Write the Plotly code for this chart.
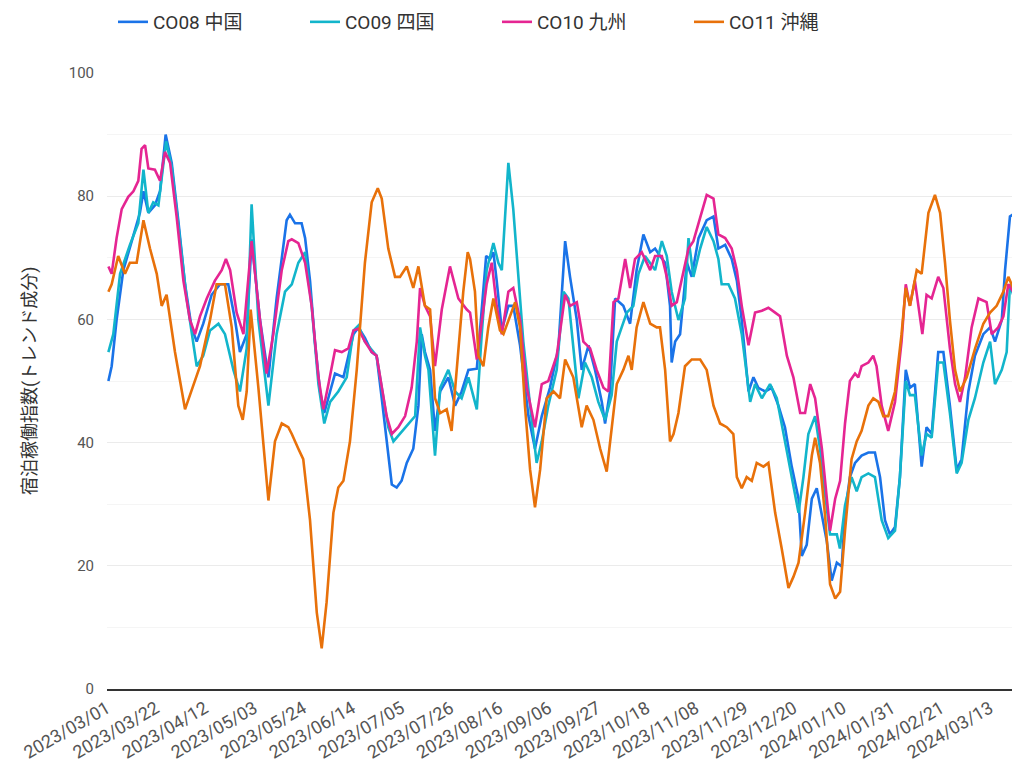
import pandas as pd
import plotly.graph_objects as go

START = "2023-03-01"

# ---- data: (day offset from 2023/03/01, index value) ----
co08_points = [
    (0.6, 50.0), (2.0, 52.4), (4.1, 59.9), (7.0, 68.0), (10.6, 72.7), (14.1, 77.3), (15.6, 80.8), (17.7, 77.3),
    (20.5, 78.5), (22.7, 80.8), (25.1, 90.0), (27.7, 85.4), (30.5, 76.1), (33.4, 65.7), (36.2, 58.7), (38.4, 56.4),
    (41.2, 59.3), (44.8, 64.0), (48.4, 65.7), (51.9, 65.7), (54.8, 59.9), (56.9, 54.7), (59.8, 57.6), (61.9, 73.0),
    (65.5, 59.9), (69.1, 50.6), (72.6, 63.4), (76.9, 76.1), (78.3, 77.0), (80.5, 75.6), (83.3, 75.6), (84.8, 73.2),
    (86.9, 66.3), (89.0, 56.4), (91.2, 48.3), (93.0, 44.8), (95.5, 48.3), (97.6, 51.2), (101.2, 50.6), (103.3, 54.1),
    (105.5, 57.6), (107.6, 58.7), (110.4, 57.0), (113.3, 54.7), (115.4, 54.1), (117.6, 47.2), (119.7, 40.2),
    (121.9, 33.2), (124.0, 32.7), (126.1, 33.8), (128.3, 36.7), (131.1, 39.0), (133.3, 46.0), (134.7, 57.6),
    (136.1, 54.7), (138.3, 51.8), (140.4, 41.9), (142.6, 48.3), (146.1, 50.6), (149.0, 46.0), (151.8, 48.3),
    (154.7, 51.8), (158.3, 52.0), (160.4, 61.6), (162.3, 70.3), (164.0, 69.8), (165.4, 70.9), (166.8, 66.3),
    (169.0, 58.2), (171.8, 62.2), (173.9, 62.2), (176.8, 55.8), (180.4, 44.3), (183.2, 39.0), (186.1, 44.3),
    (189.6, 48.9), (193.2, 55.3), (196.1, 72.7), (198.2, 66.9), (201.1, 59.9), (203.2, 51.8), (206.1, 55.8),
    (208.9, 51.8), (211.8, 46.6), (213.2, 43.1), (215.3, 48.3), (217.5, 63.4), (221.0, 62.2), (223.9, 59.3),
    (226.7, 68.0), (229.6, 73.8), (232.5, 70.9), (234.6, 71.5), (236.7, 70.3), (238.9, 69.2), (241.0, 62.2),
    (241.7, 53.0), (243.2, 56.4), (245.3, 57.6), (248.2, 69.2), (250.3, 66.9), (253.2, 73.2), (256.7, 76.1),
    (259.6, 76.7), (261.7, 71.5), (264.6, 72.1), (267.4, 69.8), (269.6, 66.3), (271.7, 59.9), (274.6, 48.3),
    (276.7, 50.6), (278.8, 48.9), (281.7, 48.3), (284.5, 48.9), (287.4, 46.0), (290.2, 42.5), (293.1, 36.1),
    (296.0, 30.9), (297.4, 21.6), (299.5, 23.4), (301.7, 30.9), (303.8, 32.6), (305.9, 28.6), (308.1, 24.0),
    (310.2, 17.6), (312.4, 20.5), (314.5, 19.9), (315.9, 28.6), (318.0, 34.4), (320.2, 36.7), (323.0, 37.9),
    (325.9, 38.4), (328.7, 38.4), (330.9, 34.4), (333.0, 27.4), (335.1, 25.1), (337.3, 26.3), (339.4, 34.4),
    (341.9, 51.8), (343.7, 48.9), (345.8, 49.5), (348.7, 36.1), (350.8, 42.5), (353.0, 41.4), (355.8, 54.7),
    (358.0, 54.7), (360.8, 46.0), (363.7, 35.6), (365.8, 37.3), (368.7, 48.3), (371.5, 54.1), (375.1, 57.6),
    (378.0, 58.7), (380.1, 56.4), (383.0, 59.9), (384.4, 68.0), (386.5, 76.7), (388.7, 77.3), (390.8, 76.1),
]

co09_points = [
    (0.6, 54.7), (2.7, 57.6), (5.6, 67.4), (9.8, 72.1), (13.4, 75.6), (15.6, 84.3), (17.7, 77.3), (19.8, 79.0),
    (22.0, 78.5), (23.4, 83.1), (25.3, 88.9), (27.7, 84.8), (30.5, 75.0), (34.1, 63.4), (38.4, 52.4), (41.2, 54.1),
    (44.1, 58.2), (47.7, 59.3), (50.5, 57.6), (54.1, 51.8), (56.9, 48.3), (59.8, 55.3), (61.9, 78.7), (64.8, 59.9),
    (69.1, 46.0), (72.6, 57.6), (76.2, 64.5), (79.1, 65.7), (81.9, 69.2), (84.8, 70.9), (87.6, 62.2), (90.5, 49.5),
    (93.0, 43.1), (95.5, 46.6), (99.0, 48.3), (102.6, 50.6), (105.5, 58.2), (107.6, 59.0), (110.4, 56.4),
    (115.4, 54.1), (117.6, 48.9), (120.4, 42.5), (122.6, 40.2), (125.4, 41.4), (129.0, 43.1), (131.9, 44.3),
    (134.0, 58.7), (136.1, 54.1), (137.6, 51.8), (140.4, 37.9), (142.6, 48.9), (146.1, 51.8), (149.0, 48.3),
    (151.8, 47.2), (154.7, 50.6), (158.3, 45.4), (160.4, 57.6), (162.5, 68.0), (165.4, 72.4), (167.5, 69.2),
    (169.0, 68.0), (171.8, 85.4), (173.9, 77.9), (176.1, 66.3), (178.2, 56.4), (181.1, 46.0), (183.9, 36.7),
    (186.1, 40.2), (188.9, 46.0), (192.5, 51.8), (195.4, 64.5), (197.5, 63.4), (199.6, 55.3), (201.8, 47.2),
    (204.6, 53.0), (207.5, 50.6), (210.3, 46.6), (213.2, 43.7), (216.0, 47.7), (218.2, 56.4), (220.3, 58.7),
    (222.5, 61.1), (225.3, 62.2), (227.5, 67.4), (230.3, 70.3), (233.2, 68.6), (234.6, 68.0), (237.5, 72.7),
    (239.6, 70.3), (241.7, 64.5), (244.6, 59.9), (247.4, 63.4), (248.9, 73.2), (251.0, 66.9), (253.9, 71.5),
    (256.7, 75.0), (259.6, 72.7), (261.7, 69.8), (263.1, 65.7), (266.0, 65.7), (268.8, 63.4), (271.7, 57.6),
    (275.3, 46.6), (277.4, 49.5), (280.3, 47.2), (283.8, 49.5), (286.7, 47.2), (290.2, 40.2), (293.1, 34.4),
    (296.0, 28.6), (298.1, 34.4), (300.2, 41.4), (303.1, 44.3), (305.2, 39.0), (307.4, 31.5), (309.5, 25.1),
    (312.4, 25.1), (313.7, 22.8), (315.9, 29.8), (318.7, 34.4), (320.9, 32.1), (323.0, 34.4), (325.9, 35.0),
    (328.7, 34.4), (331.6, 27.4), (334.4, 24.5), (337.3, 25.7), (339.4, 34.4), (341.9, 50.0), (343.7, 47.7),
    (345.8, 47.7), (348.7, 37.9), (350.8, 41.4), (353.0, 40.8), (355.8, 53.0), (358.0, 53.0), (360.8, 44.8),
    (363.7, 35.0), (365.8, 36.7), (368.7, 43.7), (371.5, 47.2), (375.1, 53.0), (378.0, 56.4), (380.1, 49.5),
    (383.0, 51.8), (385.1, 54.7), (386.5, 65.7), (389.4, 62.2), (390.8, 60.5),
]

co10_points = [
    (0.6, 68.6), (2.0, 67.4), (4.1, 73.2), (6.3, 77.9), (9.1, 79.9), (11.3, 80.8), (13.4, 82.5), (14.8, 87.7),
    (16.3, 88.3), (17.7, 84.5), (20.5, 84.3), (22.7, 82.5), (24.8, 87.2), (27.0, 85.4), (29.8, 76.7), (32.7, 66.3),
    (35.5, 59.9), (37.7, 57.6), (39.8, 60.5), (42.7, 63.4), (46.2, 66.3), (49.1, 68.0), (50.9, 69.8), (52.7, 68.0),
    (55.5, 61.1), (58.4, 57.6), (61.9, 72.7), (65.5, 59.9), (68.3, 51.2), (71.2, 57.6), (74.8, 68.0), (77.6, 72.7),
    (79.1, 73.0), (81.9, 72.4), (84.8, 69.2), (87.6, 62.2), (90.5, 50.6), (92.6, 45.4), (94.8, 49.5), (97.6, 55.0),
    (100.5, 54.7), (103.3, 55.3), (105.5, 58.2), (107.6, 58.5), (110.4, 56.4), (113.3, 54.7), (115.4, 54.1),
    (117.6, 48.9), (119.7, 44.3), (121.9, 41.4), (124.7, 42.5), (127.6, 44.3), (130.4, 48.9), (132.6, 56.4),
    (134.0, 65.1), (136.1, 62.2), (138.3, 60.5), (140.4, 52.4), (143.3, 61.6), (146.8, 68.6), (150.4, 63.4),
    (154.0, 61.6), (155.4, 61.1), (158.3, 53.5), (160.4, 59.9), (162.5, 65.7), (164.7, 69.2), (166.8, 62.2),
    (169.0, 57.6), (171.8, 64.5), (173.9, 65.1), (176.8, 59.9), (179.7, 48.9), (183.2, 42.5), (186.1, 49.5),
    (188.9, 50.0), (192.5, 54.1), (196.1, 64.0), (198.2, 62.2), (201.1, 62.8), (203.9, 56.4), (206.8, 55.3),
    (209.6, 51.8), (212.5, 48.9), (214.6, 48.3), (216.8, 62.8), (218.9, 63.4), (221.8, 69.8), (223.9, 65.1),
    (226.0, 69.8), (228.9, 70.9), (232.5, 68.0), (234.6, 70.3), (237.5, 70.3), (239.6, 66.9), (241.7, 62.2),
    (243.9, 62.8), (246.7, 68.0), (248.9, 71.5), (251.0, 72.7), (253.9, 76.7), (256.7, 80.2), (259.6, 79.6),
    (261.7, 73.8), (264.6, 73.2), (267.4, 71.5), (269.6, 68.0), (271.7, 62.2), (274.6, 55.8), (277.4, 61.1),
    (280.3, 61.4), (283.1, 61.9), (286.0, 61.1), (288.1, 60.5), (291.0, 54.1), (293.8, 50.6), (296.7, 44.8),
    (298.8, 44.8), (301.0, 49.5), (303.1, 47.2), (306.0, 39.0), (308.1, 30.9), (309.5, 25.7), (311.7, 30.9),
    (313.8, 33.8), (315.9, 43.1), (318.0, 50.0), (320.2, 51.2), (321.6, 50.6), (323.0, 52.4), (325.9, 53.0),
    (328.0, 54.1), (329.4, 52.4), (331.6, 46.0), (334.4, 41.9), (337.3, 46.6), (340.1, 56.4), (341.9, 65.7),
    (343.7, 62.2), (345.8, 66.3), (349.0, 57.6), (350.8, 64.0), (353.0, 63.4), (355.8, 66.9), (358.0, 65.1),
    (360.8, 55.3), (363.0, 49.5), (365.1, 46.6), (367.3, 50.6), (370.1, 58.7), (373.0, 63.4), (376.5, 62.8),
    (378.7, 57.6), (381.5, 58.7), (383.7, 60.5), (385.8, 65.7), (388.7, 64.0), (390.8, 61.6),
]

co11_points = [
    (0.6, 64.5), (2.0, 65.7), (4.8, 70.3), (7.7, 67.4), (9.8, 69.2), (12.7, 69.2), (15.6, 76.1), (18.4, 71.5),
    (21.3, 67.4), (23.4, 62.2), (25.5, 64.0), (29.1, 54.7), (33.4, 45.4), (37.0, 49.5), (39.8, 52.4), (44.1, 59.9),
    (46.9, 65.7), (50.5, 65.7), (53.4, 58.7), (56.2, 46.0), (58.1, 43.7), (59.8, 48.3), (61.5, 61.6), (64.8, 48.9),
    (69.1, 30.6), (71.9, 40.2), (74.8, 43.1), (77.6, 42.5), (79.1, 41.4), (81.9, 39.0), (84.0, 37.3), (86.9, 27.4),
    (89.8, 12.4), (91.9, 6.6), (94.0, 14.1), (96.9, 28.6), (99.0, 32.7), (101.2, 33.8), (104.0, 40.2), (106.9, 51.8),
    (110.4, 69.2), (113.3, 79.0), (115.9, 81.3), (117.6, 79.6), (120.4, 71.5), (123.3, 66.9), (125.4, 66.9),
    (128.3, 68.6), (131.1, 65.1), (133.3, 68.6), (134.7, 65.7), (136.1, 62.2), (138.3, 61.6), (140.4, 47.2),
    (142.6, 44.8), (145.4, 45.4), (147.5, 41.9), (149.7, 51.8), (152.5, 64.5), (154.4, 70.9), (155.4, 69.8),
    (157.5, 64.5), (159.0, 54.1), (161.1, 52.4), (163.2, 58.7), (165.4, 63.4), (168.2, 58.2), (169.7, 57.6),
    (171.8, 59.9), (174.7, 62.8), (176.8, 58.7), (178.9, 46.0), (181.1, 35.6), (183.2, 29.5), (185.4, 35.6),
    (188.2, 47.2), (191.1, 48.3), (193.9, 47.2), (196.1, 53.5), (199.6, 50.6), (203.2, 42.5), (205.3, 46.0),
    (208.2, 43.7), (211.1, 39.0), (213.9, 35.3), (216.0, 41.9), (218.2, 49.5), (221.0, 51.8), (223.2, 54.1),
    (224.6, 51.8), (226.7, 58.7), (229.6, 62.8), (232.5, 59.3), (235.3, 58.7), (236.7, 58.7), (238.9, 51.8),
    (241.0, 40.2), (242.5, 41.4), (244.6, 44.8), (247.4, 52.4), (250.3, 53.5), (253.9, 53.5), (256.7, 51.8),
    (259.6, 46.0), (262.4, 43.1), (265.3, 42.5), (268.1, 41.4), (269.6, 34.4), (271.7, 32.6), (273.8, 34.4),
    (276.0, 33.8), (278.1, 36.7), (281.0, 36.1), (283.1, 36.7), (286.0, 28.6), (288.8, 22.8), (291.7, 16.4),
    (293.8, 18.2), (296.0, 20.5), (298.8, 28.6), (301.7, 37.9), (303.1, 40.8), (305.2, 36.7), (307.4, 28.0),
    (309.5, 17.0), (311.7, 14.7), (313.8, 15.8), (315.9, 25.7), (318.7, 37.3), (320.9, 40.2), (323.0, 41.9),
    (325.9, 46.0), (328.0, 47.2), (330.2, 46.6), (332.3, 44.3), (334.4, 44.3), (337.3, 48.3), (340.1, 57.6),
    (341.9, 65.1), (343.7, 62.2), (346.6, 68.0), (348.7, 67.4), (351.6, 77.3), (354.4, 80.2), (356.6, 77.3),
    (358.7, 69.2), (360.8, 59.9), (363.0, 51.8), (365.1, 48.3), (368.0, 50.6), (371.6, 55.3), (375.1, 59.3),
    (378.0, 61.1), (380.8, 62.2), (383.7, 64.5), (385.8, 66.9), (387.9, 65.1), (389.4, 59.9), (390.8, 53.0),
]

names = ["CO08 中国", "CO09 四国", "CO10 九州", "CO11 沖縄"]
colors = ["#1a73e8", "#12b5cb", "#e52592", "#e8710a"]

tick_labels = ["2023/03/01", "2023/03/22", "2023/04/12", "2023/05/03", "2023/05/24", "2023/06/14",
               "2023/07/05", "2023/07/26", "2023/08/16", "2023/09/06", "2023/09/27", "2023/10/18",
               "2023/11/08", "2023/11/29", "2023/12/20", "2024/01/10", "2024/01/31", "2024/02/21",
               "2024/03/13"]
y_ticks = [0, 20, 40, 60, 80, 100]
x_end_day = 390.8

start = pd.Timestamp(START)

fig = go.Figure()
for pts, nm, col in zip([co08_points, co09_points, co10_points, co11_points], names, colors):
    xs = [start + pd.Timedelta(days=d) for d, _ in pts]
    ys = [v for _, v in pts]
    fig.add_trace(go.Scatter(x=xs, y=ys, mode="lines", name=nm,
                             line=dict(color=col, width=2.6)))

tick_dates = [pd.Timestamp(t.replace("/", "-")) for t in tick_labels]

# page body has an 8px margin, so the figure is offset by 8px right/down
FIG_W, FIG_H = 1012, 770
M_L, M_T, M_B = 99, 65, 89
plot_w = FIG_W - M_L

fig.update_layout(
    width=FIG_W, height=FIG_H,
    margin=dict(l=M_L, r=0, t=M_T, b=M_B, autoexpand=False),
    plot_bgcolor="white", paper_bgcolor="white",
    font=dict(family="Roboto, 'Noto Sans CJK JP', sans-serif", color="#555555", size=14),
    showlegend=True,
    legend=dict(orientation="h", x=6 / plot_w, xanchor="left", y=1 + 51 / 616, yanchor="middle",
                font=dict(size=19, color="#333333"), entrywidth=147, entrywidthmode="pixels",
                bgcolor="rgba(0,0,0,0)"),
    xaxis=dict(type="date", range=[start, start + pd.Timedelta(days=x_end_day)],
               tickvals=tick_dates, ticktext=tick_labels, tickangle=-30,
               showgrid=False, showline=True, linecolor="#333333", linewidth=2,
               ticks="", tickfont=dict(size=18, color="#555555"), zeroline=False),
    yaxis=dict(range=[0, 100], tickvals=y_ticks, showgrid=True, gridcolor="#ebebeb",
               minor=dict(dtick=10, showgrid=True, gridcolor="#f5f5f5"),
               zeroline=False, ticks="", tickfont=dict(size=15, color="#555555"), ticklabelstandoff=12),
    annotations=[dict(text="宿泊稼働指数(トレンド成分)", textangle=-90, xref="paper", yref="paper",
                      x=(22 - M_L) / plot_w, y=0.5, xanchor="center", yanchor="middle", showarrow=False,
                      font=dict(size=18, color="#333333"))],
)

fig.write_html("out.html")
